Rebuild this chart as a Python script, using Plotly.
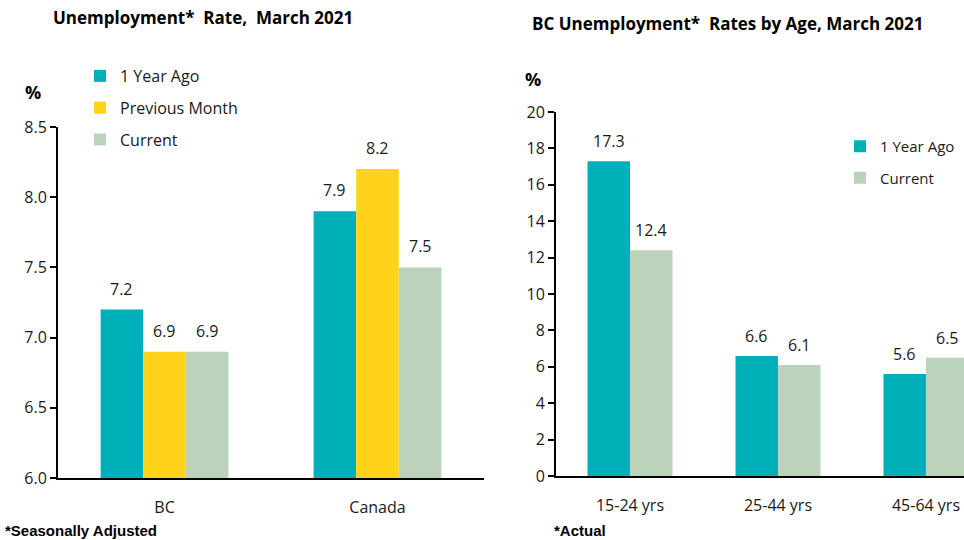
import plotly.graph_objects as go

# ---------------- data ----------------
regions = ["BC", "Canada"]
rate_1yr_ago = [7.2, 7.9]
rate_prev_month = [6.9, 8.2]
rate_current = [6.9, 7.5]

age_groups = ["15-24 yrs", "25-44 yrs", "45-64 yrs"]
age_1yr_ago = [17.3, 6.6, 5.6]
age_current = [12.4, 6.1, 6.5]

left_ticks = [6.0, 6.5, 7.0, 7.5, 8.0, 8.5]
right_ticks = [0, 2, 4, 6, 8, 10, 12, 14, 16, 18, 20]

TEAL = "#00B0B9"
YELLOW = "#FFD31A"
GREEN = "#BAD3BA"
FONT = "Open Sans"
TXT = "#1a1a1a"

fig = go.Figure()

# left chart
left_series = [("1 Year Ago", rate_1yr_ago, TEAL, -0.3),
               ("Previous Month", rate_prev_month, YELLOW, -0.1),
               ("Current", rate_current, GREEN, 0.1)]
for name, vals, col, off in left_series:
    fig.add_trace(go.Bar(x=regions, y=vals, name=name, marker=dict(color=col, line=dict(width=0)),
                         width=0.2, offset=off, xaxis="x", yaxis="y",
                         legend="legend", legendgroup="L" + name))
    for i, v in enumerate(vals):
        fig.add_annotation(x=i + off + 0.1, y=v, xref="x", yref="y", text=f"{v:.1f}",
                           showarrow=False, yanchor="middle", yshift=21,
                           font=dict(family=FONT, size=16, color=TXT))

# right chart
right_series = [("1 Year Ago", age_1yr_ago, TEAL, -0.287),
                ("Current", age_current, GREEN, 0.0)]
for name, vals, col, off in right_series:
    fig.add_trace(go.Bar(x=age_groups, y=vals, name=name, marker=dict(color=col, line=dict(width=0)),
                         width=0.287, offset=off, xaxis="x2", yaxis="y2",
                         legend="legend2", legendgroup="R" + name))
    for i, v in enumerate(vals):
        fig.add_annotation(x=i + off + 0.1435, y=v, xref="x2", yref="y2", text=f"{v:.1f}",
                           showarrow=False, yanchor="middle", yshift=20,
                           font=dict(family=FONT, size=16, color=TXT))

axis_common = dict(showgrid=False, zeroline=False, showline=True, linecolor="black", linewidth=2,
                   tickfont=dict(family=FONT, size=16, color=TXT))

fig.update_layout(
    width=964, height=540,
    margin=dict(l=0, r=0, t=0, b=0, autoexpand=False),
    paper_bgcolor="white", plot_bgcolor="white",
    barmode="group",
    xaxis=dict(domain=[58 / 964, 484 / 964], range=[-0.5, 1.5], ticks="", ticklabelstandoff=14,
               anchor="y", **axis_common),
    yaxis=dict(domain=[(540 - 478) / 540, (540 - 127) / 540], range=[6.0, 8.5], tickvals=left_ticks,
               tickformat=".1f", ticks="outside", ticklen=6, tickwidth=1.5, tickcolor="black",
               anchor="x", **axis_common),
    xaxis2=dict(domain=[556 / 964, 1.0], range=[-0.5, 2.257], ticks="", ticklabelstandoff=14,
                anchor="y2", **axis_common),
    yaxis2=dict(domain=[(540 - 476) / 540, (540 - 112) / 540], range=[0, 20], tickvals=right_ticks,
                ticks="outside", ticklen=6, tickwidth=1.5, tickcolor="black",
                anchor="x2", **axis_common),
    legend=dict(x=80 / 964, y=1 - 59 / 540, xanchor="left", yanchor="top",
                font=dict(family=FONT, size=16, color=TXT), tracegroupgap=8,
                bgcolor="rgba(0,0,0,0)", traceorder="grouped"),
    legend2=dict(x=840 / 964, y=1 - 130 / 540, xanchor="left", yanchor="top",
                 font=dict(family=FONT, size=15, color=TXT), tracegroupgap=9,
                 bgcolor="rgba(0,0,0,0)", traceorder="grouped"),
)

# titles and labels
texts = [
    ("Unemployment*  Rate,  March 2021", 203, 18, 17, "bold", FONT),
    ("BC Unemployment*  Rates by Age, March 2021", 727, 24, 17, "bold", FONT),
    ("%", 33, 92, 18, "bold", FONT),
    ("%", 533, 79, 18, "bold", FONT),
]
for t, x, y, s, w, f in texts:
    fig.add_annotation(text=t, x=x / 964, y=1 - y / 540, xref="paper", yref="paper",
                       showarrow=False, xanchor="center", yanchor="middle",
                       font=dict(family=f, size=s, color="black", weight=w))

NARROW = "Liberation Sans Narrow, Arial Narrow, Liberation Sans"
fig.add_annotation(text="*Seasonally Adjusted", x=3 / 964, y=1 - 530 / 540, xref="paper", yref="paper",
                   showarrow=False, xanchor="left", yanchor="middle",
                   font=dict(family=NARROW, size=15, color="black", weight="bold"))
fig.add_annotation(text="*Actual", x=552 / 964, y=1 - 530 / 540, xref="paper", yref="paper",
                   showarrow=False, xanchor="left", yanchor="middle",
                   font=dict(family=NARROW, size=15, color="black", weight="bold"))

fig.write_html("out.html", config={"displayModeBar": False},
               post_script="document.body.style.margin='0';document.body.style.overflow='hidden';")
